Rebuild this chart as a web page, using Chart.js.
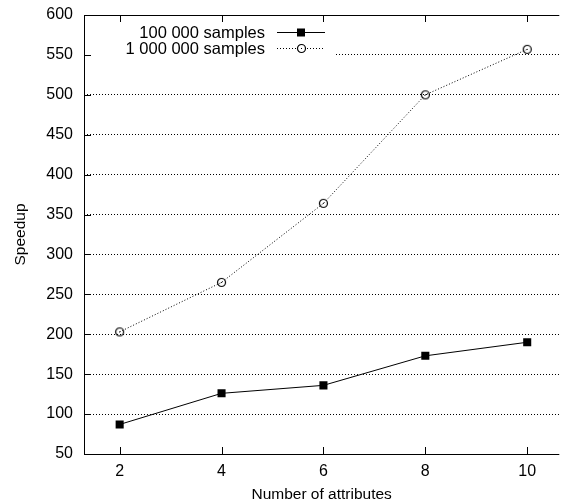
<!DOCTYPE html>
<html>
<head>
<meta charset="utf-8">
<script src="https://cdn.jsdelivr.net/npm/chart.js@4/dist/chart.umd.min.js"></script>
<style>
    html, body { margin: 0; padding: 0; background: #fff; }
    #wrap { width: 565px; height: 504px; }
</style>
</head>
<body>
<div id="wrap"><canvas id="speedupChart" width="565" height="504"></canvas></div>
<script>
// values
const attributes = [2, 4, 6, 8, 10];
const samples100k = [87, 126, 136, 173, 190];
const samples1m = [203, 265, 364, 500, 557];
const xTickValues = [2, 4, 6, 8, 10];
const yTickValues = [50, 100, 150, 200, 250, 300, 350, 400, 450, 500, 550, 600];
const seriesLabels = ['100 000 samples', '1 000 000 samples'];

const FONT = "'Liberation Sans', Arial, Helvetica, sans-serif";

// open circle with a dot in the middle
function circleDot() {
    const c = document.createElement('canvas');
    c.width = 11;
    c.height = 11;
    const g = c.getContext('2d');
    g.strokeStyle = '#000';
    g.lineWidth = 1.2;
    g.beginPath();
    g.arc(5.5, 5.5, 4, 0, Math.PI * 2);
    g.stroke();
    g.fillStyle = '#000';
    g.fillRect(5, 5, 1, 1);
    return c;
}
const circleMarker = circleDot();

// white box behind the key, inward ticks, borders and the key itself
const framePlugin = {
    id: 'frame',
    beforeDatasetsDraw(chart) {
        const ctx = chart.ctx;
        const a = chart.chartArea;
        ctx.save();
        ctx.fillStyle = '#fff';
        ctx.fillRect(a.left + 1, a.top + 1, 250, 44);
        ctx.restore();
    },
    afterDraw(chart) {
        const ctx = chart.ctx;
        const a = chart.chartArea;
        const xs = chart.scales.x;
        const ys = chart.scales.y;
        ctx.save();
        ctx.strokeStyle = '#000';
        ctx.lineWidth = 1;
        ctx.beginPath();
        // left, top, bottom border
        ctx.moveTo(a.left + 0.5, a.bottom + 0.5);
        ctx.lineTo(a.left + 0.5, a.top + 0.5);
        ctx.lineTo(a.right, a.top + 0.5);
        ctx.moveTo(a.left + 0.5, a.bottom + 0.5);
        ctx.lineTo(a.right, a.bottom + 0.5);
        // ticks pointing inside
        for (const v of xTickValues) {
            const px = Math.round(xs.getPixelForValue(v)) + 0.5;
            ctx.moveTo(px, a.bottom);
            ctx.lineTo(px, a.bottom - 7);
            ctx.moveTo(px, a.top);
            ctx.lineTo(px, a.top + 7);
        }
        for (const v of yTickValues) {
            const py = Math.round(ys.getPixelForValue(v)) + 0.5;
            ctx.moveTo(a.left, py);
            ctx.lineTo(a.left + 7, py);
        }
        ctx.stroke();

        // key
        ctx.font = '16.5px ' + FONT;
        ctx.fillStyle = '#000';
        ctx.textAlign = 'right';
        ctx.textBaseline = 'middle';
        const rows = [a.top + 17, a.top + 33];
        ctx.fillText(seriesLabels[0], 265, rows[0] + 1);
        ctx.fillText(seriesLabels[1], 265, rows[1] + 1);

        ctx.beginPath();
        ctx.moveTo(277, rows[0] + 0.5);
        ctx.lineTo(325, rows[0] + 0.5);
        ctx.stroke();
        ctx.fillRect(297, rows[0] - 3.5, 8, 8);

        ctx.strokeStyle = '#000';
        ctx.setLineDash([1, 2]);
        ctx.beginPath();
        ctx.moveTo(277, rows[1] + 0.5);
        ctx.lineTo(325, rows[1] + 0.5);
        ctx.stroke();
        ctx.setLineDash([]);
        ctx.fillStyle = '#fff';
        ctx.fillRect(296, rows[1] - 4, 10, 10);
        ctx.drawImage(circleMarker, 296, rows[1] - 5);
        ctx.restore();
    }
};

new Chart(document.getElementById('speedupChart').getContext('2d'), {
    type: 'line',
    data: {
        datasets: [{
                label: seriesLabels[0],
                data: attributes.map((x, i) => ({x: x, y: samples100k[i]})),
                borderColor: '#000',
                backgroundColor: '#000',
                borderWidth: 1,
                pointStyle: 'rect',
                pointRadius: 5.7,
                pointBorderWidth: 0,
                tension: 0
            }, {
                label: seriesLabels[1],
                data: attributes.map((x, i) => ({x: x, y: samples1m[i]})),
                borderColor: '#000',
                borderWidth: 1,
                borderDash: [1, 2],
                pointStyle: circleMarker,
                tension: 0
            }]
    },
    options: {
        responsive: false,
        animation: false,
        events: [],
        layout: {padding: {top: 15, right: 0, left: 0, bottom: 0}},
        plugins: {
            legend: {display: false},
            tooltip: {enabled: false}
        },
        scales: {
            x: {
                type: 'linear',
                min: 1.3,
                max: 10.63,
                afterBuildTicks: (scale) => {
                    scale.ticks = xTickValues.map(v => ({value: v}));
                },
                afterFit: (scale) => {
                    scale.height = 50;
                    scale.paddingLeft = 0;
                    scale.paddingRight = 0;
                },
                grid: {display: false, drawTicks: false},
                border: {display: false},
                ticks: {
                    color: '#000',
                    padding: 8,
                    maxRotation: 0,
                    font: {family: FONT, size: 16}
                },
                title: {
                    display: true,
                    text: 'Number of attributes',
                    color: '#000',
                    padding: {top: 3, bottom: 0},
                    font: {family: FONT, size: 15.5}
                }
            },
            y: {
                type: 'linear',
                min: 50,
                max: 600,
                afterBuildTicks: (scale) => {
                    scale.ticks = yTickValues.map(v => ({value: v}));
                },
                afterFit: (scale) => {
                    scale.width = 84;
                    scale.paddingTop = 0;
                    scale.paddingBottom = 0;
                },
                grid: {
                    color: '#000',
                    lineWidth: 1,
                    drawTicks: false
                },
                border: {display: false, dash: [1, 2]},
                ticks: {
                    color: '#000',
                    padding: 11,
                    font: {family: FONT, size: 16}
                },
                title: {
                    display: true,
                    text: 'Speedup',
                    color: '#000',
                    padding: {top: 11, bottom: 0},
                    font: {family: FONT, size: 15.5}
                }
            }
        }
    },
    plugins: [framePlugin]
});
</script>
</body>
</html>
